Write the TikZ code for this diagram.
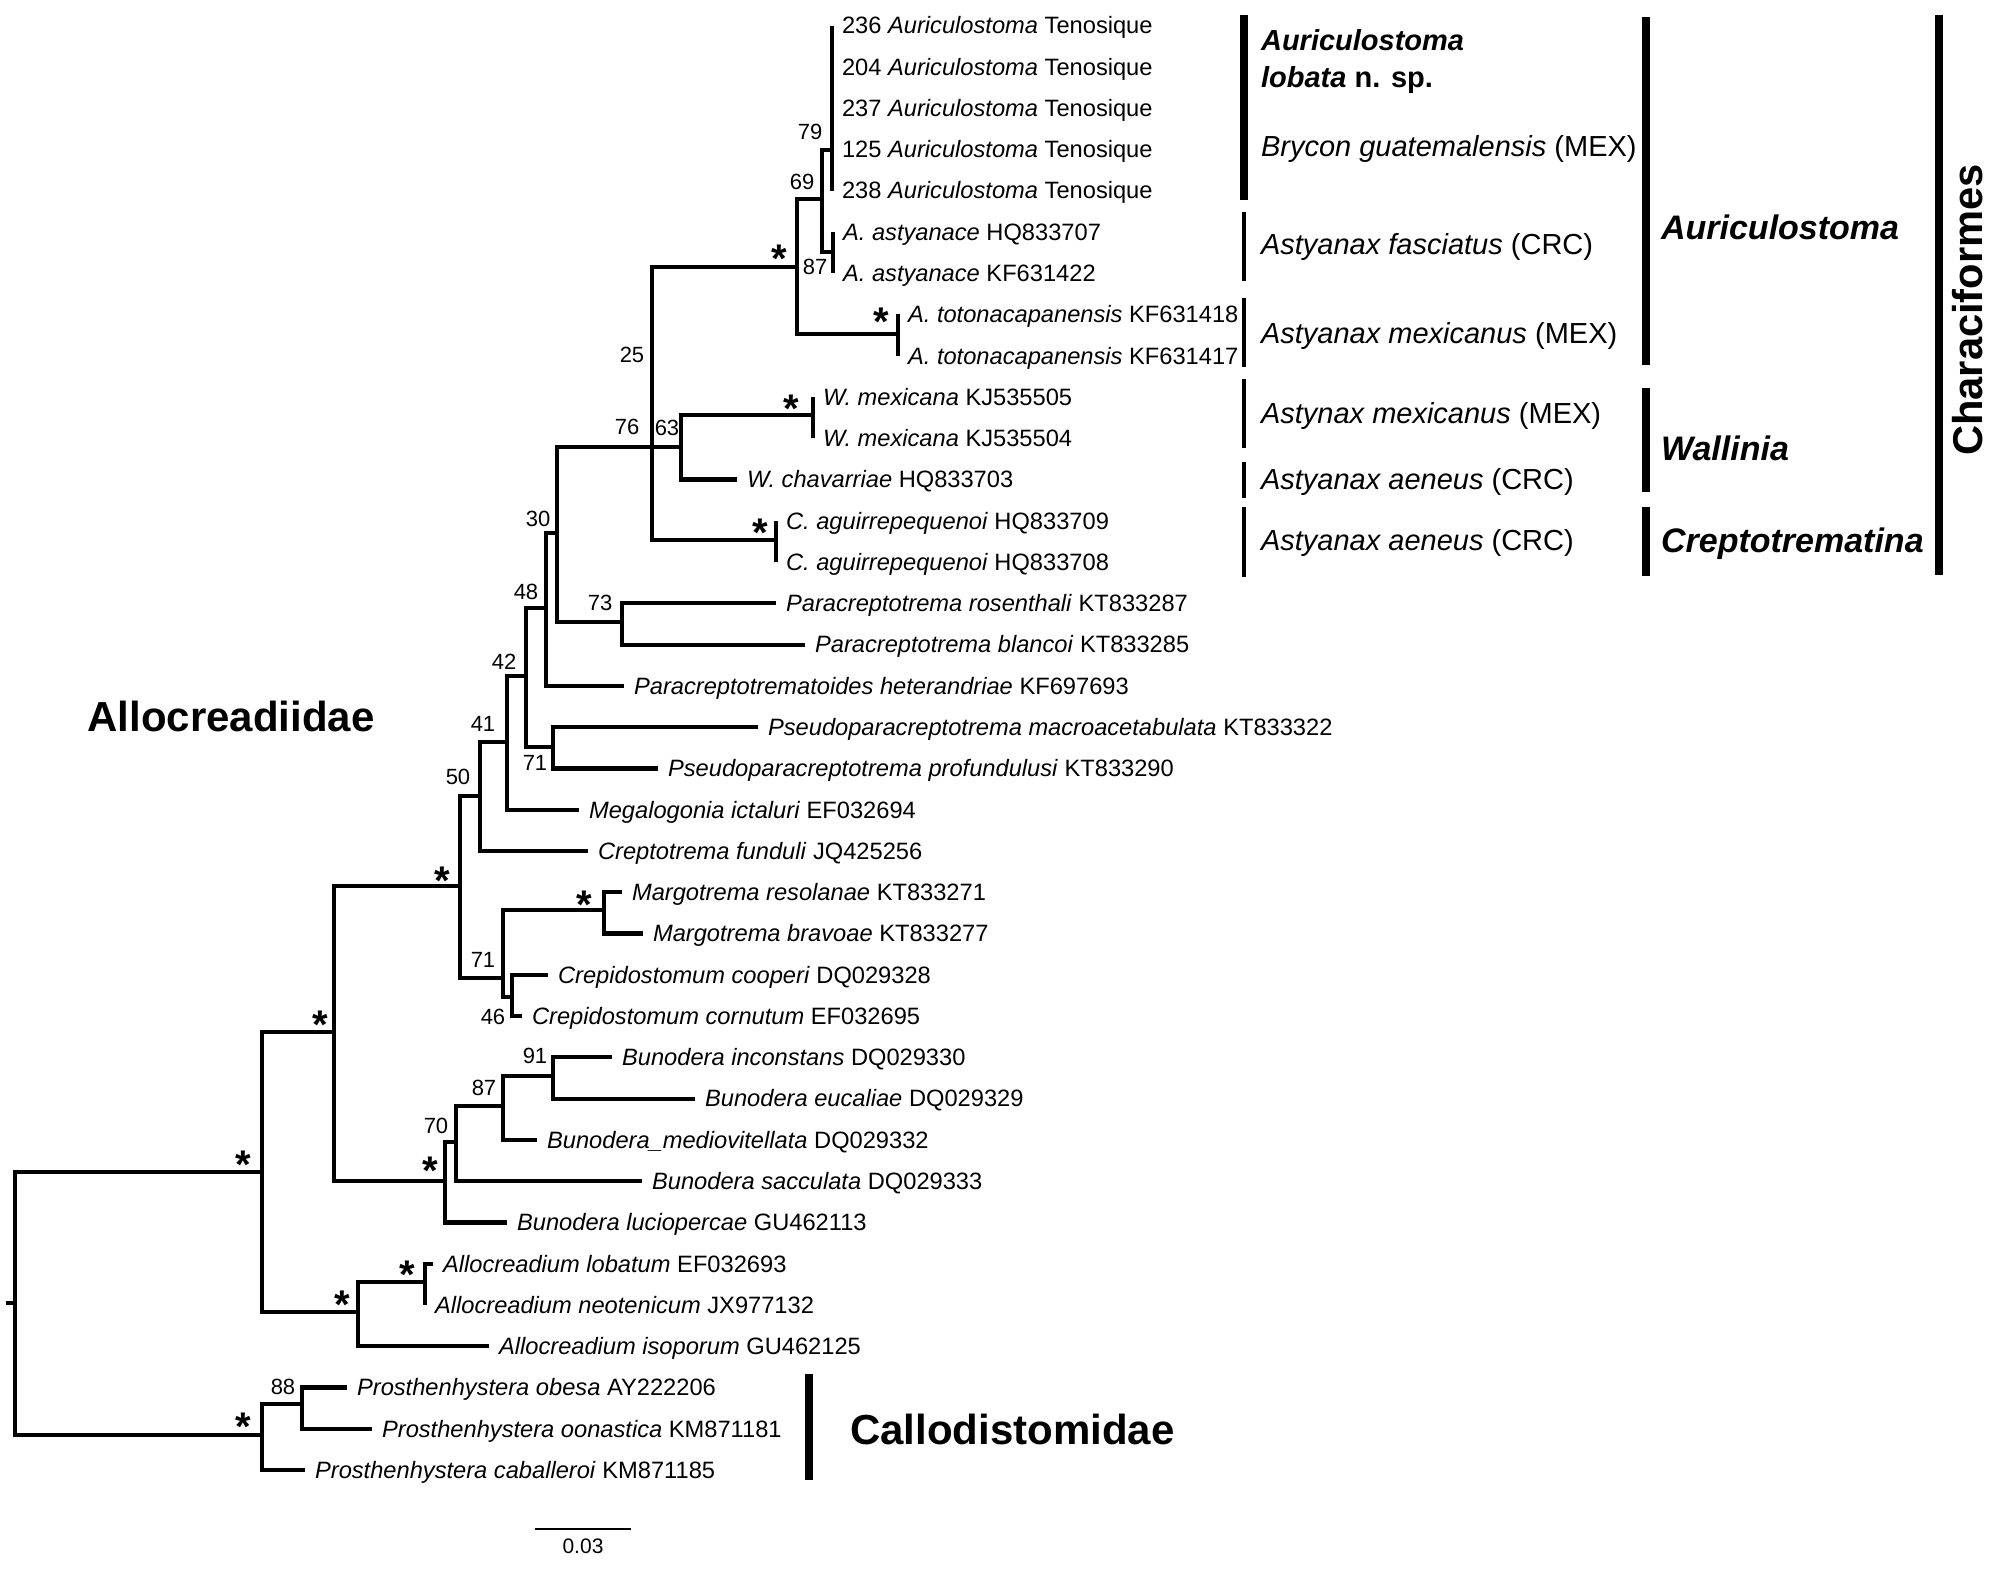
\documentclass[tikz,border=0pt]{standalone}
\usepackage{fontspec}
\setmainfont{Liberation Sans}
\tikzset{
  leaf/.style={anchor=base west,inner sep=0pt,xshift=2.4pt,yshift=-2.5pt,font=\fontsize{7.1}{8}\selectfont},
  boot/.style={anchor=base,inner sep=0pt,yshift=-2.35pt,font=\fontsize{6.6}{7}\selectfont},
  ast/.style={anchor=base,inner sep=0pt,yshift=-6.9pt,font=\fontsize{12}{12}\selectfont\bfseries},
  host/.style={anchor=base west,inner sep=0pt,yshift=-3.1pt,font=\fontsize{8.7}{9}\selectfont},
  clade/.style={anchor=base west,inner sep=0pt,yshift=-3.65pt,font=\fontsize{10.2}{11}\selectfont\bfseries\itshape},
  fam/.style={anchor=base,inner sep=0pt,yshift=-4.5pt,font=\fontsize{12.6}{13}\selectfont\bfseries},
  thickbar/.style={line width=2.3pt},
  thinbar/.style={line width=1pt},
}
\begin{document}
\begin{tikzpicture}[x=.3pt,y=-.3pt,line width=1.25pt]
  \useasboundingbox (0,0) rectangle (2008,1571);
  \foreach \i/\tx/\lab in {
    1/832/{236 \textit{Auriculostoma} Tenosique},
    2/832/{204 \textit{Auriculostoma} Tenosique},
    3/832/{237 \textit{Auriculostoma} Tenosique},
    4/832/{125 \textit{Auriculostoma} Tenosique},
    5/832/{238 \textit{Auriculostoma} Tenosique},
    6/833/{\textit{A. astyanace} HQ833707},
    7/833/{\textit{A. astyanace} KF631422},
    8/898/{\textit{A. totonacapanensis} KF631418},
    9/898/{\textit{A. totonacapanensis} KF631417},
    10/813/{\textit{W. mexicana} KJ535505},
    11/813/{\textit{W. mexicana} KJ535504},
    12/737/{\textit{W. chavarriae} HQ833703},
    13/776/{\textit{C. aguirrepequenoi} HQ833709},
    14/776/{\textit{C. aguirrepequenoi} HQ833708},
    15/776/{\textit{Paracreptotrema rosenthali} KT833287},
    16/805/{\textit{Paracreptotrema blancoi} KT833285},
    17/624/{\textit{Paracreptotrematoides heterandriae} KF697693},
    18/758/{\textit{Pseudoparacreptotrema macroacetabulata} KT833322},
    19/658/{\textit{Pseudoparacreptotrema profundulusi} KT833290},
    20/579/{\textit{Megalogonia ictaluri} EF032694},
    21/588/{\textit{Creptotrema funduli} JQ425256},
    22/622/{\textit{Margotrema resolanae} KT833271},
    23/643/{\textit{Margotrema bravoae} KT833277},
    24/548/{\textit{Crepidostomum cooperi} DQ029328},
    25/522/{\textit{Crepidostomum cornutum} EF032695},
    26/612/{\textit{Bunodera inconstans} DQ029330},
    27/695/{\textit{Bunodera eucaliae} DQ029329},
    28/537/{\textit{Bunodera\_mediovitellata} DQ029332},
    29/642/{\textit{Bunodera sacculata} DQ029333},
    30/507/{\textit{Bunodera luciopercae} GU462113},
    31/433/{\textit{Allocreadium lobatum} EF032693},
    32/425/{\textit{Allocreadium neotenicum} JX977132},
    33/489/{\textit{Allocreadium isoporum} GU462125},
    34/347/{\textit{Prosthenhystera obesa} AY222206},
    35/372/{\textit{Prosthenhystera oonastica} KM871181},
    36/305/{\textit{Prosthenhystera caballeroi} KM871185}}{
    \coordinate (t\i) at (\tx,{25.6+(\i-1)*41.27});
    \node[leaf] (l\i) at (t\i) {\lab};
  }
  \coordinate (rt) at (6,1303);
  \coordinate (nR) at (15,1303);
  \coordinate (nA) at (262,1172);
  \coordinate (nC) at (262,1435);
  \coordinate (n88) at (302,1404);
  \coordinate (nB) at (334,1032);
  \coordinate (nD) at (358,1312);
  \coordinate (nD2) at (425,1282);
  \coordinate (nE) at (460,886);
  \coordinate (nF) at (445,1181);
  \coordinate (n70) at (456,1142);
  \coordinate (n87b) at (503,1106);
  \coordinate (n91) at (553,1076);
  \coordinate (n50) at (480,796);
  \coordinate (n71b) at (503,978);
  \coordinate (nMar) at (604,910);
  \coordinate (n46) at (512,997);
  \coordinate (n41) at (507,742);
  \coordinate (n42) at (526,676);
  \coordinate (n48) at (546,608);
  \coordinate (nPse) at (553,747);
  \coordinate (n30) at (557,533);
  \coordinate (n73) at (622,622);
  \coordinate (n25) at (652,447);
  \coordinate (n63) at (681,447);
  \coordinate (nWm) at (813,415);
  \coordinate (nCag) at (776,540);
  \coordinate (nAur) at (797,267);
  \coordinate (n69) at (822,199);
  \coordinate (n79) at (832,150);
  \coordinate (n87a) at (833,252);
  \coordinate (nTot) at (898,334);
  \draw (rt) -- (nR) (nR) |- (nA) (nR) |- (nC)
    (nA) |- (nB) (nA) |- (nD)
    (nB) |- (nE) (nB) |- (nF)
    (nE) |- (n50) (nE) |- (n71b)
    (n50) |- (n41) (n50) |- (t21)
    (n41) |- (n42) (n41) |- (t20)
    (n42) |- (n48) (n42) |- (nPse)
    (n48) |- (n30) (n48) |- (t17)
    (n30) |- (n25) (n30) |- (n73)
    (n25) |- (nAur) (n25) -- (n63) (n25) |- (nCag)
    (nAur) |- (n69) (nAur) |- (nTot)
    (n69) |- (n79) (n69) |- (n87a)
    (n79) |- (t1) (n79) |- (t5)
    (n87a) |- (t6) (n87a) |- (t7)
    (nTot) |- (t8) (nTot) |- (t9)
    (n63) |- (nWm) (n63) |- (t12)
    (nWm) |- (t10) (nWm) |- (t11)
    (nCag) |- (t13) (nCag) |- (t14)
    (n73) |- (t15) (n73) |- (t16)
    (nPse) |- (t18) (nPse) |- (t19)
    (n71b) |- (nMar) (n71b) |- (n46)
    (nMar) |- (t22) (nMar) |- (t23)
    (n46) |- (t24) (n46) |- (t25)
    (nF) |- (n70) (nF) |- (t30)
    (n70) |- (n87b) (n70) |- (t29)
    (n87b) |- (n91) (n87b) |- (t28)
    (n91) |- (t26) (n91) |- (t27)
    (nD) |- (nD2) (nD) |- (t33)
    (nD2) |- (t31) (nD2) |- (t32)
    (nC) |- (n88) (nC) |- (t36)
    (n88) |- (t34) (n88) |- (t35);
  \foreach \nm/\px/\py/\txt in {b79/810/132/79,b69/802/182/69,b87a/815/267/87,
    b25/632/355/25,b76/627/427/76,b63/667/428/63,b30/538/519/30,b73/600/603/73,
    b48/526/592/48,b42/504/662/42,b41/483/724/41,b71a/535/763/71,b50/458/777/50,
    b71b/483/960/71,b46/493/1017/46,b91/535/1056/91,b87b/484/1088/87,
    b70/436/1126/70,b88/283/1387/88}
    \node[boot] (\nm) at (\px,\py) {\txt};
  \foreach \nm/\px/\py in {sAur/779/250,sTot/881/313,sWm/791/400,sCag/760/524,
    sE/442/872,sMar/584/896,sB/320/1016,sF/430/1162,sA/243/1156,sD2/407/1266,
    sD/342/1296,sC/243/1418}
    \node[ast] (\nm) at (\px,\py) {*};
  \draw[thickbar] (1244,15) -- (1244,200);
  \draw[thinbar] (1244,212) -- (1244,281);
  \draw[thinbar] (1244,298) -- (1244,367);
  \draw[thinbar] (1244,379) -- (1244,448);
  \draw[thinbar] (1244,462) -- (1244,498);
  \draw[thinbar] (1244,507) -- (1244,577);
  \node[host,font=\fontsize{8.7}{9}\selectfont\bfseries\itshape] (hAur) at (1259,40) {Auriculostoma};
  \node[host,font=\fontsize{8.7}{9}\selectfont\bfseries] (hLob) at (1259,77) {\textit{lobata} n. sp.};
  \node[host] (hBry) at (1259,146) {\textit{Brycon guatemalensis} (MEX)};
  \node[host] (hFas) at (1259,244) {\textit{Astyanax fasciatus} (CRC)};
  \node[host] (hMex) at (1259,333) {\textit{Astyanax mexicanus} (MEX)};
  \node[host] (hMexb) at (1259,413) {\textit{Astynax mexicanus} (MEX)};
  \node[host] (hAen) at (1259,479) {\textit{Astyanax aeneus} (CRC)};
  \node[host] (hAenb) at (1259,540) {\textit{Astyanax aeneus} (CRC)};
  \draw[thickbar] (1646,17) -- (1646,365);
  \draw[thickbar] (1646,388) -- (1646,492);
  \draw[thickbar] (1646,507) -- (1646,576);
  \node[clade] (gAur) at (1659,227) {Auriculostoma};
  \node[clade] (gWal) at (1659,448) {Wallinia};
  \node[clade] (gCre) at (1659,540) {Creptotrematina};
  \draw[thickbar] (1939,15) -- (1939,575);
  \node[rotate=90,inner sep=0pt,font=\fontsize{12.5}{13}\selectfont\bfseries] (gCha) at (1968,310) {Characiformes};
  \node[fam] (fAll) at (231,717) {Allocreadiidae};
  \draw[thickbar] (809,1374) -- (809,1480);
  \node[fam,anchor=base west] (fCal) at (848,1430) {Callodistomidae};
  \draw[line width=.5pt] (535,1529) -- (631,1529);
  \node[boot,font=\fontsize{6.3}{7}\selectfont] (sc) at (583,1546) {0.03};
\end{tikzpicture}
\end{document}
